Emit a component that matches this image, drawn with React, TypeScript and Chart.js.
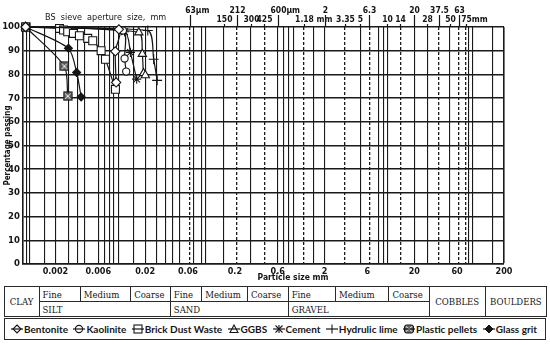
import React, { useEffect, useRef } from "react";
import { Chart, registerables } from "chart.js";

Chart.register(...registerables);

// ---------- data ----------
const seriesNames = [
  "Bentonite",
  "Kaolinite",
  "Brick Dust Waste",
  "GGBS",
  "Cement",
  "Hydrulic lime",
  "Plastic pellets",
  "Glass grit",
];

const bentoniteSize = [0.00093, 0.0102, 0.0093, 0.0095];
const bentonitePass = [100, 99, 89.7, 76.6];

const kaoliniteSize = [0.00093, 0.0113, 0.0118, 0.0123];
const kaolinitePass = [100, 98.5, 86.7, 81.2];

const brickSize = [0.00093, 0.00222, 0.00246, 0.00274, 0.00317, 0.0037, 0.00458, 0.00521, 0.00646, 0.00722, 0.00933];
const brickPass = [100, 99.4, 98.7, 98, 97.3, 96.3, 95.2, 94.2, 90, 86.4, 73.7];

const ggbsSize = [0.00093, 0.017, 0.0186, 0.0192, 0.0201];
const ggbsPass = [100, 97.7, 88.6, 80.5, 79.6];

const cementSize = [0.00093, 0.0118, 0.0137, 0.0161];
const cementPass = [100, 98, 89.3, 78];

const limeSize = [0.00093, 0.0214, 0.0249, 0.0272];
const limePass = [100, 98.5, 86.4, 77.5];

const pelletsSize = [0.00093, 0.00252, 0.00274];
const pelletsPass = [100, 83.4, 70.8];

const glassSize = [0.00093, 0.00279, 0.00345, 0.00387];
const glassPass = [100, 91, 80.8, 70.5];

const sizesList = [bentoniteSize, kaoliniteSize, brickSize, ggbsSize, cementSize, limeSize, pelletsSize, glassSize];
const passList = [bentonitePass, kaolinitePass, brickPass, ggbsPass, cementPass, limePass, pelletsPass, glassPass];

// axis ticks
const xMin = 0.00087;
const xMax = 200;
const xLabelValues = [0.002, 0.006, 0.02, 0.06, 0.2, 0.6, 2, 6, 20, 60, 200];
const xLabelTexts = ["0.002", "0.006", "0.02", "0.06", "0.2", "0.6", "2", "6", "20", "60", "200"];
const gridLineValues = [
  0.00096, 0.00104, 0.0015, 0.002, 0.0028, 0.0035, 0.0042, 0.006, 0.007, 0.008, 0.009, 0.01,
  0.015, 0.02, 0.027, 0.034, 0.04, 0.048, 0.07, 0.084, 0.094, 0.7, 0.8, 0.9, 1.5, 8, 9, 80, 90, 150, 200,
];

// BS sieve sizes (mm)
const sieveValues = [0.063, 0.15, 0.212, 0.3, 0.425, 0.6, 1.18, 2, 3.35, 5, 6.3, 10, 14, 20, 28, 37.5, 50, 63, 75];
const sieveMain = ["63", "150", "212", "300", "425", "600", "1.18", "2", "3.35", "5", "6.3", "10", "14", "20", "28", "37.5", "50", "63", "75"];
const sieveSuffix = ["µm", "", "", "", "", "µm", " mm", "", "", "", "", "", "", "", "", "", "", "", "mm"];
const sieveUpperRow = [true, false, true, false, false, true, false, true, false, false, true, false, false, true, false, true, false, true, false];
const sieveDashed = [true, false, true, false, true, false, true, false, true, false, true, false, true, false, false, true, false, true, true];

// classification table
const fractionSubs = ["Fine", "Medium", "Coarse"];
const fractionNames = ["SILT", "SAND", "GRAVEL"];

// ---------- styles ----------
const INK = "#151515";
const NARROW = '"Liberation Sans Narrow", "DejaVu Sans Condensed", "Liberation Sans", sans-serif';

type XTick = { v: number; kind: "solid" | "dash" | "none"; label: string };

function buildXTicks(): XTick[] {
  const list: XTick[] = [];
  const add = (v: number, kind: XTick["kind"], label: string) => {
    const found = list.find((t) => Math.abs(Math.log10(t.v) - Math.log10(v)) < 1e-6);
    if (found) {
      if (kind !== "none") found.kind = kind;
      if (label) found.label = label;
    } else list.push({ v, kind, label });
  };
  gridLineValues.forEach((v) => add(v, "solid", ""));
  sieveValues.forEach((v, i) => add(v, sieveDashed[i] ? "dash" : "solid", ""));
  xLabelValues.forEach((v, i) => add(v, "none", xLabelTexts[i]));
  list.sort((a, b) => a.v - b.v);
  return list;
}

function makePelletImage(): HTMLCanvasElement {
  const c = document.createElement("canvas");
  c.width = 10;
  c.height = 10;
  const g = c.getContext("2d")!;
  g.fillStyle = "#6a6a6a";
  g.fillRect(1, 1, 8, 8);
  g.strokeStyle = INK;
  g.lineWidth = 1.2;
  g.strokeRect(1, 1, 8, 8);
  g.beginPath();
  g.moveTo(2, 2);
  g.lineTo(8, 8);
  g.moveTo(8, 2);
  g.lineTo(2, 8);
  g.strokeStyle = "#eee";
  g.lineWidth = 1;
  g.stroke();
  return c;
}

const sievePlugin = {
  id: "sieveLabels",
  afterDraw(chart: any) {
    const { ctx, chartArea } = chart;
    const x = chart.scales.x;
    const top = chartArea.top;
    ctx.save();
    ctx.strokeStyle = INK;
    ctx.fillStyle = INK;
    ctx.lineWidth = 1.2;
    ctx.font = `bold 8.5px ${NARROW}`;
    ctx.textBaseline = "middle";
    ctx.textAlign = "left";
    sieveValues.forEach((v, i) => {
      const px = Math.round(x.getPixelForValue(v)) + 0.5;
      const upper = sieveUpperRow[i];
      ctx.beginPath();
      ctx.moveTo(px, top);
      ctx.lineTo(px, upper ? top - 12 : top - 3);
      ctx.stroke();
      const mw = ctx.measureText(sieveMain[i]).width;
      ctx.fillText(sieveMain[i] + sieveSuffix[i], px - mw / 2, upper ? top - 16 : top - 7);
    });
    ctx.font = `9px ${NARROW}`;
    ctx.fillText("BS  sieve  aperture  size,  mm", 45, top - 9);
    ctx.font = `bold 8.5px ${NARROW}`;
    ctx.textAlign = "center";
    ctx.fillText("Particle size mm", 293, chartArea.bottom + 14);
    ctx.restore();
  },
};

function LegendMark({ idx }: { idx: number }) {
  const stroke = INK;
  let shape: React.ReactNode = null;
  if (idx === 0) shape = <polygon points="6,1 10,5 6,9 2,5" fill="#fff" stroke={stroke} strokeWidth={1.1} />;
  if (idx === 1) shape = <circle cx={6} cy={5} r={3.6} fill="#fff" stroke={stroke} strokeWidth={1.1} />;
  if (idx === 2) shape = <rect x={2} y={1} width={8} height={8} fill="#fff" stroke={stroke} strokeWidth={1.1} />;
  if (idx === 3) shape = <polygon points="6,1 10,8.5 2,8.5" fill="#fff" stroke={stroke} strokeWidth={1.1} />;
  if (idx === 4)
    shape = (
      <g stroke={stroke} strokeWidth={1.1}>
        <line x1={6} y1={1} x2={6} y2={9} />
        <line x1={2.5} y1={1.5} x2={9.5} y2={8.5} />
        <line x1={9.5} y1={1.5} x2={2.5} y2={8.5} />
      </g>
    );
  if (idx === 5) shape = <line x1={6} y1={0.5} x2={6} y2={9.5} stroke={stroke} strokeWidth={1.1} />;
  if (idx === 6)
    shape = (
      <g>
        <rect x={1.5} y={1} width={9} height={8} rx={2} fill="#6a6a6a" stroke={stroke} strokeWidth={1} />
        <line x1={3} y1={2.5} x2={9} y2={7.5} stroke="#eee" strokeWidth={1} />
        <line x1={9} y1={2.5} x2={3} y2={7.5} stroke="#eee" strokeWidth={1} />
      </g>
    );
  if (idx === 7) shape = <polygon points="6,1 10,5 6,9 2,5" fill={stroke} stroke={stroke} strokeWidth={1} />;
  return (
    <svg width={12} height={10} viewBox="0 0 12 10" style={{ marginRight: 1, display: "block" }}>
      {shape}
      <line x1={0} y1={5} x2={12} y2={5} stroke={stroke} strokeWidth={1.2} />
    </svg>
  );
}

export default function App() {
  const canvasRef = useRef<HTMLCanvasElement | null>(null);

  useEffect(() => {
    document.body.style.margin = "0";
    const canvas = canvasRef.current!;
    const xTicks = buildXTicks();
    const pellet = makePelletImage();

    const pointStyles: any[] = ["rectRot", "circle", "rect", "triangle", "star", "cross", pellet, "rectRot"];
    const pointRadii = [4.6, 3.6, 5.6, 4.8, 4.6, 5, 5, 4];
    const pointFills = ["#fff", "#fff", "#fff", "#fff", "#fff", "#fff", "#fff", INK];

    const datasets = seriesNames.map((name, i) => ({
      label: name,
      data: sizesList[i].map((s, j) => ({ x: s, y: passList[i][j] })),
      borderColor: INK,
      borderWidth: 1.2,
      tension: 0.25,
      fill: false,
      clip: false as any,
      pointStyle: pointStyles[i],
      pointRadius: pointRadii[i],
      pointBackgroundColor: pointFills[i],
      pointBorderColor: INK,
      pointBorderWidth: 1.1,
    }));

    const chart = new Chart(canvas, {
      type: "line",
      data: { datasets },
      options: {
        responsive: false,
        animation: false,
        events: [],
        layout: { padding: { top: 27, right: 46, left: 0, bottom: 0 } },
        plugins: { legend: { display: false }, tooltip: { enabled: false } },
        scales: {
          x: {
            type: "logarithmic",
            min: xMin,
            max: xMax,
            bounds: "data",
            afterBuildTicks: (s: any) => {
              s.ticks = xTicks.map((t) => ({ value: t.v }));
            },
            afterFit: (s: any) => {
              s.height = 20;
            },
            ticks: {
              autoSkip: false,
              maxRotation: 0,
              minRotation: 0,
              padding: 2,
              color: INK,
              font: { family: NARROW, size: 9, weight: "bold" },
              callback: (_v: any, i: number) => (xTicks[i] ? xTicks[i].label : ""),
            },
            grid: {
              drawTicks: false,
              color: (c: any) => {
                const t = xTicks[c.index];
                return t && t.kind !== "none" ? "#1a1a1a" : "rgba(0,0,0,0)";
              },
              lineWidth: (c: any) => {
                const t = xTicks[c.index];
                if (!t) return 1.2;
                if (t.v === xMax) return 1.6;
                return t.kind === "dash" ? 1.3 : 1.1;
              },
            },
            border: {
              display: true,
              color: "#1a1a1a",
              width: 1.6,
              dash: (c: any) => {
                const t = c && c.index !== undefined ? xTicks[c.index] : undefined;
                return t && t.kind === "dash" ? [3, 2] : [];
              },
            },
          },
          y: {
            min: 0,
            max: 100,
            afterFit: (s: any) => {
              s.width = 23;
            },
            ticks: {
              stepSize: 10,
              padding: 3,
              color: INK,
              font: { family: NARROW, size: 9.5, weight: "bold" },
            },
            grid: { drawTicks: false, color: "#1a1a1a", lineWidth: 1.6 },
            border: { display: true, color: "#1a1a1a", width: 1.6 },
            title: {
              display: true,
              text: "Percentage passing",
              color: INK,
              font: { family: NARROW, size: 8, weight: "bold" },
              padding: { top: 3, bottom: 0 },
            },
          },
        },
      } as any,
      plugins: [sievePlugin],
    });
    return () => chart.destroy();
  }, []);

  const cell: React.CSSProperties = {
    border: "1px solid #2a2a2a",
    padding: "0 0 0 3px",
    whiteSpace: "nowrap",
    overflow: "hidden",
    verticalAlign: "middle",
    textAlign: "left",
  };
  const centerCell: React.CSSProperties = { ...cell, textAlign: "center", padding: 0 };
  const colWidths = [35, 41.3, 50.4, 39.6, 31.5, 45.7, 40.7, 47.3, 53.5, 40.3, 56, 61.2];

  return (
    <div
      style={{
        position: "fixed",
        left: 0,
        top: 0,
        width: 550,
        height: 345,
        background: "#fff",
        overflow: "hidden",
      }}
    >
      <canvas ref={canvasRef} width={550} height={284} style={{ position: "absolute", left: 0, top: 0, width: 550, height: 284 }} />
      <table
        style={{
          position: "absolute",
          left: 3.5,
          top: 286,
          width: 543,
          height: 30,
          borderCollapse: "collapse",
          tableLayout: "fixed",
          fontFamily: '"DejaVu Serif Condensed", "DejaVu Serif", "Liberation Serif", serif',
          fontSize: 9.5,
          color: INK,
        }}
      >
        <colgroup>
          {colWidths.map((w, i) => (
            <col key={i} style={{ width: w }} />
          ))}
        </colgroup>
        <tbody>
          <tr style={{ height: 15 }}>
            <td rowSpan={2} style={centerCell}>CLAY</td>
            {fractionNames.map((f) =>
              fractionSubs.map((s) => (
                <td key={f + s} style={cell}>
                  {s}
                </td>
              ))
            )}
            <td rowSpan={2} style={centerCell}>COBBLES</td>
            <td rowSpan={2} style={centerCell}>BOULDERS</td>
          </tr>
          <tr style={{ height: 15 }}>
            {fractionNames.map((f) => (
              <td key={f} colSpan={3} style={cell}>
                {f}
              </td>
            ))}
          </tr>
        </tbody>
      </table>
      <div
        style={{
          position: "absolute",
          left: 4,
          top: 318,
          width: 542,
          height: 22,
          boxSizing: "border-box",
          border: "1px solid #2a2a2a",
          display: "flex",
          alignItems: "center",
          justifyContent: "space-between",
          padding: "0 8px 0 6px",
          fontFamily: 'Lato, "Open Sans", sans-serif',
          fontWeight: 700,
          fontSize: 10,
          color: INK,
        }}
      >
        {seriesNames.map((n, i) => (
          <span key={n} style={{ display: "flex", alignItems: "center", whiteSpace: "nowrap" }}>
            <LegendMark idx={i} />
            {n}
          </span>
        ))}
      </div>
    </div>
  );
}
